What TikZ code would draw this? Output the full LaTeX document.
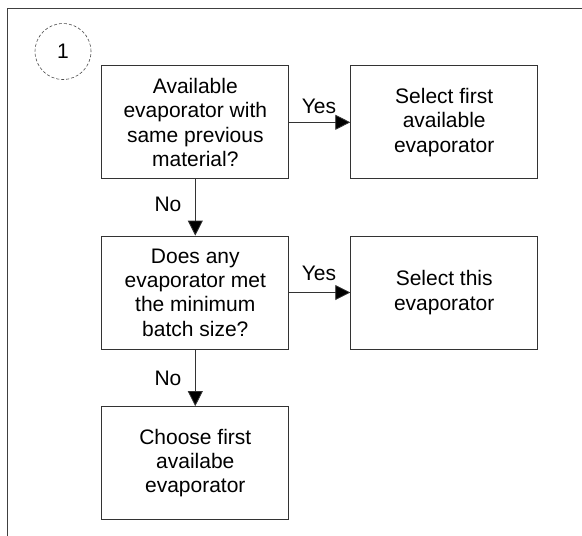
\documentclass[tikz,border=0pt]{standalone}
\usepackage{fontspec}
\setmainfont{Liberation Sans}
\usetikzlibrary{arrows.meta}
\begin{document}
\begin{tikzpicture}[x=1pt,y=-1pt,
  box/.style={draw=black!80,line width=0.8pt,minimum width=187pt,minimum height=113pt,inner sep=0pt,align=center,
    font=\fontsize{21}{24.4}\selectfont},
  lbl/.style={font=\fontsize{21}{24}\selectfont,inner sep=0pt},
  conn/.style={draw=black!80,line width=0.8pt,-{Triangle[length=15pt,width=15pt,fill=black]}}]
\useasboundingbox (0,0) rectangle (582,536);
\fill[white] (0,0) rectangle (582,536);
\draw[black!75,line width=1pt] (7,540) -- (7,8.5) -- (590,8.5);
\node[draw=black!70,dash pattern=on 3pt off 2pt,line width=0.6pt,circle,minimum size=56pt,inner sep=0pt,font=\fontsize{21}{24}\selectfont] (c1) at (63,51.5) {1};
\node[box] (b1) at (195.3,122.3) {Available\\evaporator with\\same previous\\material?};
\node[box] (b2) at (350.3,122.3) [anchor=west] {Select first\\available\\evaporator};
\node[box] (b3) at (195.3,292.5) {Does any\\evaporator met\\the minimum\\batch size?};
\node[box] (b4) at (350.3,292.5) [anchor=west] {Select this\\evaporator};
\node[box] (b5) at (195.3,463) {Choose first\\availabe\\evaporator};
\draw[conn] (b1.east) -- (b2.west);
\draw[conn] (b1.south) -- (b3.north);
\draw[conn] (b3.east) -- (b4.west);
\draw[conn] (b3.south) -- (b5.north);
\node[lbl] (y1) at (319,106.5) {Yes};
\node[lbl] (y2) at (319,273) {Yes};
\node[lbl] (n1) at (168,204) {No};
\node[lbl] (n2) at (168,378) {No};
\end{tikzpicture}
\end{document}
